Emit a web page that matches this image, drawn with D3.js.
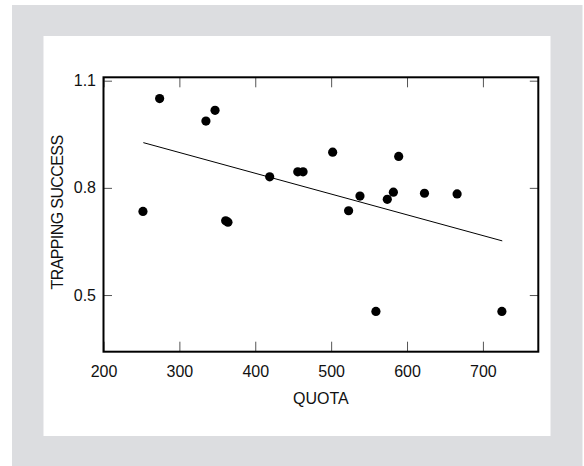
<!DOCTYPE html>
<html>
<head>
<meta charset="utf-8">
<script src="https://cdn.jsdelivr.net/npm/d3@7"></script>
<style>
  html, body { margin: 0; padding: 0; background: #ffffff; }
  svg { display: block; }
  text { font-family: "Liberation Sans", Arial, Helvetica, sans-serif; fill: #111; }
</style>
</head>
<body>
<svg id="chart" width="584" height="466"></svg>
<script>
// ---- data ----
const quota   = [274, 335, 347, 252, 361, 364, 419, 456, 463, 502, 523, 538, 574, 582, 589, 623, 666, 559, 725];
const success = [1.050, 0.987, 1.017, 0.734, 0.708, 0.704, 0.831, 0.845, 0.845, 0.900, 0.736, 0.777, 0.768, 0.788, 0.888, 0.785, 0.783, 0.454, 0.454];
const fitQuota   = [252.5, 725.5];
const fitSuccess = [0.9266, 0.6516];
const xTicks = [200, 300, 400, 500, 600, 700];
const yTicks = [0.5, 0.8, 1.1];
const xDomain = [200, 773];
const yDomain = [0.3414, 1.1095];
const xTitle = "QUOTA";
const yTitle = "TRAPPING SUCCESS";

// ---- layout ----
const svg = d3.select("#chart");
const L = 103.5, R = 538.3, T = 77.3, B = 351.7;

svg.append("rect").attr("x", 12).attr("y", 5).attr("width", 570.5).attr("height", 461).attr("fill", "#dcdde0");
svg.append("rect").attr("x", 43.5).attr("y", 36).attr("width", 507).attr("height", 400).attr("fill", "#ffffff");

const x = d3.scaleLinear().domain(xDomain).range([L, R]);
const y = d3.scaleLinear().domain(yDomain).range([B, T]);

const fontSize = 16;

function styleAxis(g) {
  g.select(".domain").remove();
  g.selectAll(".tick line").attr("stroke", "#555").attr("stroke-width", 1);
  g.selectAll(".tick text").attr("font-size", fontSize).attr("fill", "#111")
    .attr("font-family", "'Liberation Sans', Arial, sans-serif");
}

svg.append("g").attr("transform", `translate(0,${B})`)
  .call(d3.axisBottom(x).tickValues(xTicks).tickSize(-10).tickPadding(13.5).tickFormat(d3.format("d")))
  .call(styleAxis);
svg.append("g").attr("transform", `translate(0,${T})`)
  .call(d3.axisTop(x).tickValues(xTicks).tickSize(-10).tickFormat(""))
  .call(styleAxis);
svg.append("g").attr("transform", `translate(${L},0)`)
  .call(d3.axisLeft(y).tickValues(yTicks).tickSize(-8.5).tickPadding(7.5).tickFormat(d3.format(".1f")))
  .call(styleAxis);
svg.append("g").attr("transform", `translate(${R},0)`)
  .call(d3.axisRight(y).tickValues(yTicks).tickSize(-8.5).tickFormat(""))
  .call(styleAxis);

// frame
svg.append("rect").attr("x", L).attr("y", T).attr("width", R - L).attr("height", B - T)
  .attr("fill", "none").attr("stroke", "#000").attr("stroke-width", 2);

// fit line
svg.append("line")
  .attr("x1", x(fitQuota[0])).attr("y1", y(fitSuccess[0]))
  .attr("x2", x(fitQuota[1])).attr("y2", y(fitSuccess[1]))
  .attr("stroke", "#000").attr("stroke-width", 1);

// points
svg.append("g").selectAll("circle").data(quota.map((q, i) => [q, success[i]]))
  .join("circle")
  .attr("cx", d => x(d[0])).attr("cy", d => y(d[1])).attr("r", 4.6).attr("fill", "#000");

// titles
svg.append("text").attr("x", (L + R) / 2).attr("y", 404).attr("text-anchor", "middle")
  .attr("font-size", fontSize).text(xTitle);
svg.append("text").attr("transform", `translate(62.5,${(T + B) / 2 - 2}) rotate(-90)`)
  .attr("text-anchor", "middle").attr("font-size", fontSize)
  .attr("letter-spacing", "-0.6px").text(yTitle);
</script>
</body>
</html>
